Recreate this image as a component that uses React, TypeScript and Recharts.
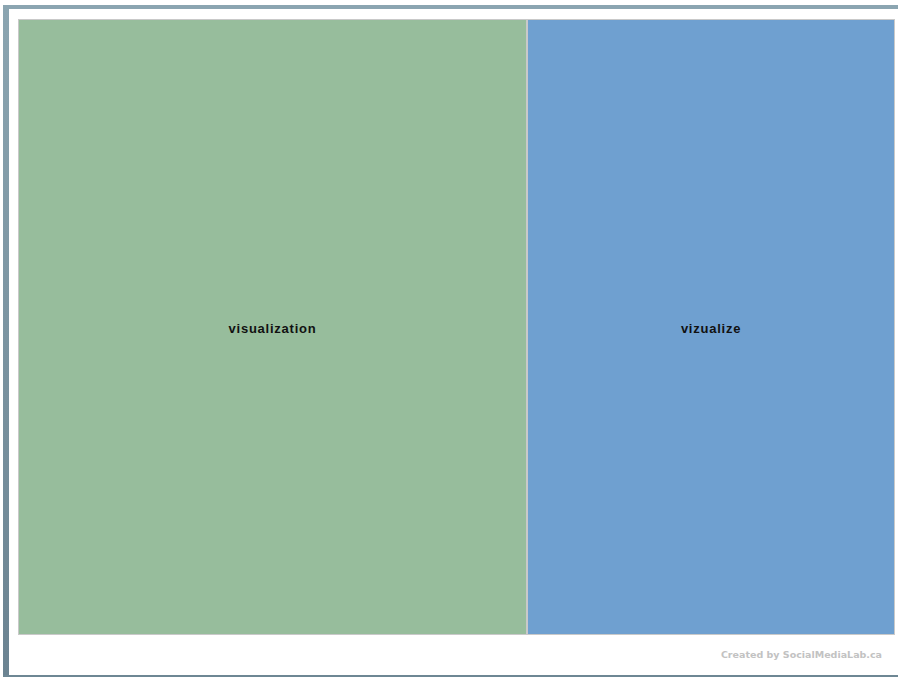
import { Treemap } from "recharts";

// search terms and how often each was used
const terms = ["visualization", "vizualize"];
const counts = [18, 13];
const fills = ["#97bd9c", "#6fa0d0"];

const data = terms.map((name, i) => ({ name, size: counts[i] }));

const Cell = (props: any) => {
  const { x, y, width, height, name, depth, index } = props;
  if (depth !== 1) return null;
  return (
    <g>
      <rect
        x={x}
        y={y}
        width={width}
        height={height}
        fill={fills[index % fills.length]}
        stroke="#c9c9c9"
        strokeWidth={2}
      />
      <text
        x={x + width / 2}
        y={y + height / 2 + 1}
        textAnchor="middle"
        dominantBaseline="central"
        fill="#111"
        fontFamily="'Liberation Sans', Arial, sans-serif"
        fontWeight="bold"
        fontSize={13}
        letterSpacing={0.75}
      >
        {name}
      </text>
    </g>
  );
};

const App = () => {
  return (
    <div
      style={{
        position: "absolute",
        left: 0,
        top: 0,
        width: 898,
        height: 677,
        background: "#fff",
        overflow: "hidden",
      }}
    >
      {/* frame */}
      <div style={{ position: "absolute", left: 3, top: 5, width: 895, height: 4, background: "#8ba5b1" }} />
      <div
        style={{
          position: "absolute",
          left: 3,
          top: 5,
          width: 6,
          height: 672,
          background: "linear-gradient(#8ba5b1, #6b8391)",
        }}
      />
      <div style={{ position: "absolute", left: 3, top: 675, width: 895, height: 2, background: "#6e8794" }} />

      <div style={{ position: "absolute", left: 18, top: 19 }}>
        <Treemap
          width={877}
          height={616}
          data={data}
          dataKey="size"
          aspectRatio={4 / 3}
          isAnimationActive={false}
          content={<Cell />}
        />
      </div>

      <div
        style={{
          position: "absolute",
          right: 16,
          top: 649,
          fontFamily: "Verdana, 'DejaVu Sans', sans-serif",
          fontWeight: "bold",
          fontSize: 9.5,
          color: "#c2c2c2",
        }}
      >
        Created by SocialMediaLab.ca
      </div>
    </div>
  );
};

export default App;
